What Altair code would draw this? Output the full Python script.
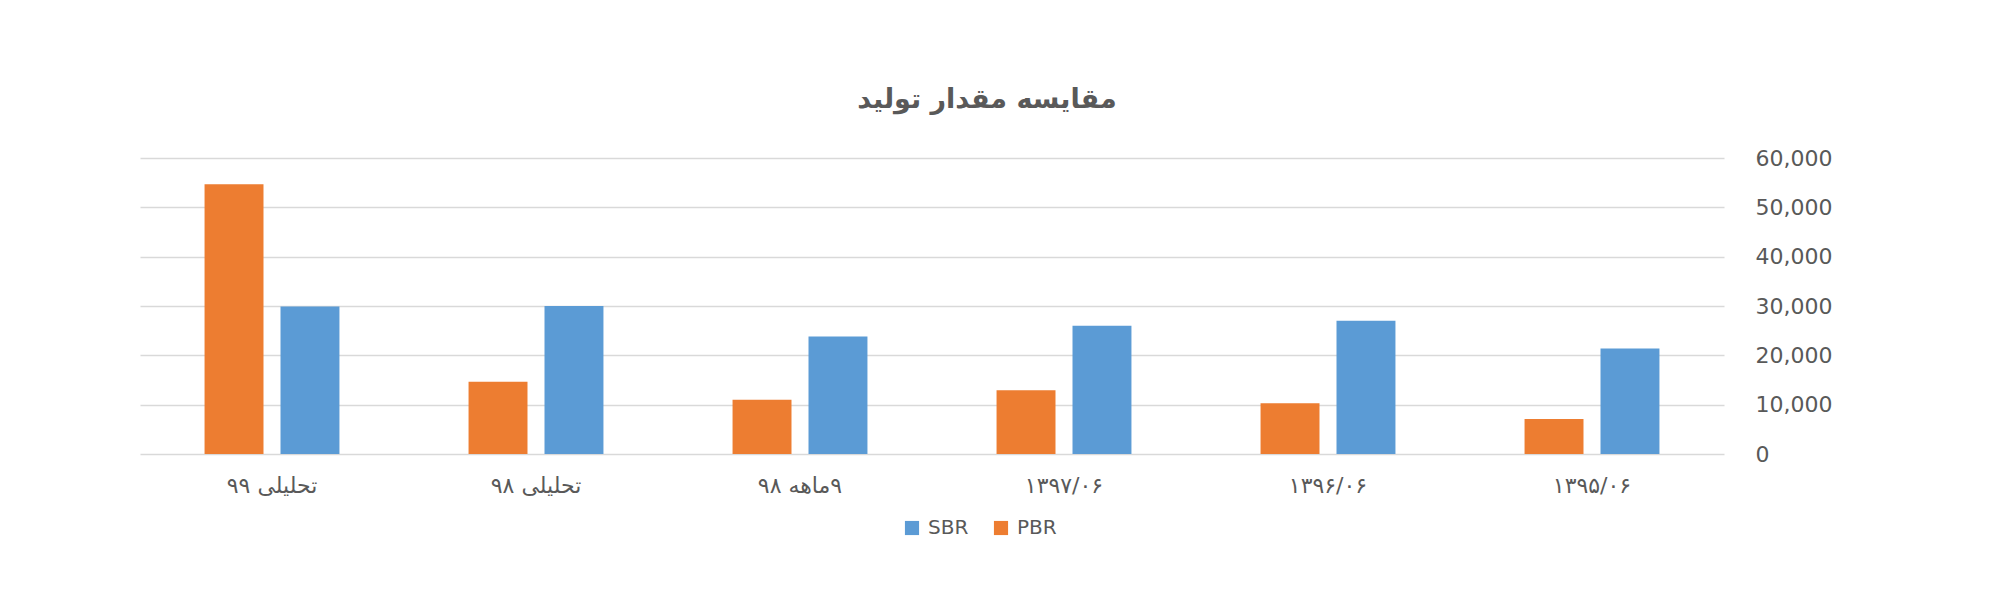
import altair as alt
import pandas as pd

categories = ["تحلیلی ۹۹", "تحلیلی ۹۸", "\u200f۹ماهه ۹۸", "۱۳۹۷/۰۶", "۱۳۹۶/۰۶", "۱۳۹۵/۰۶"]
pbr = [54700, 14650, 11000, 12900, 10300, 7100]
sbr = [29900, 30000, 23800, 26000, 27000, 21400]
series_names = ["PBR", "SBR"]
y_ticks = [0, 10000, 20000, 30000, 40000, 50000, 60000]

rows = []
for c, p, s in zip(categories, pbr, sbr):
    rows.append({"category": c, "series": "PBR", "value": p})
    rows.append({"category": c, "series": "SBR", "value": s})
df = pd.DataFrame(rows)

FONT = "DejaVu Sans"
GRAY = "#595959"

chart = alt.Chart(df).mark_bar().encode(
    x=alt.X(
        "category:N",
        sort=categories,
        scale=alt.Scale(paddingInner=0.489, paddingOuter=0.2445),
        axis=alt.Axis(
            title=None, labelAngle=0, domain=False, ticks=False,
            labelPadding=21, labelFontSize=22, labelColor=GRAY, labelFont=FONT,
            grid=False,
        ),
    ),
    xOffset=alt.XOffset("series:N", sort=series_names, scale=alt.Scale(paddingInner=0.224)),
    y=alt.Y(
        "value:Q",
        scale=alt.Scale(domain=[0, 60000]),
        axis=alt.Axis(
            title=None, orient="right", values=y_ticks, format=",d",
            domain=False, ticks=False, labelPadding=31, labelFontSize=22,
            labelColor=GRAY, labelFont=FONT, gridColor="#D9D9D9", gridWidth=1.4,
        ),
    ),
    color=alt.Color(
        "series:N",
        scale=alt.Scale(domain=series_names, range=["#ED7D31", "#5B9BD5"]),
        legend=alt.Legend(
            title=None, orient="none", direction="horizontal",
            legendX=762, legendY=360, values=["SBR", "PBR"],
            symbolType="square", symbolSize=200, symbolStrokeWidth=0,
            labelFontSize=20, labelColor=GRAY, labelFont=FONT,
            columnPadding=22, labelOffset=6, padding=0,
        ),
    ),
).properties(
    width=1584,
    height=296,
    title=alt.TitleParams(
        text="مقایسه مقدار تولید",
        font=FONT, fontSize=27, fontWeight="bold", color=GRAY,
        anchor="middle", dx=55, offset=33,
    ),
    autosize=alt.AutoSizeParams(type="none"),
    padding={"left": 132, "top": 150, "right": 266, "bottom": 143},
).configure_view(stroke=None)

chart.save("out.html", embed_options={"renderer": "svg", "actions": False})
